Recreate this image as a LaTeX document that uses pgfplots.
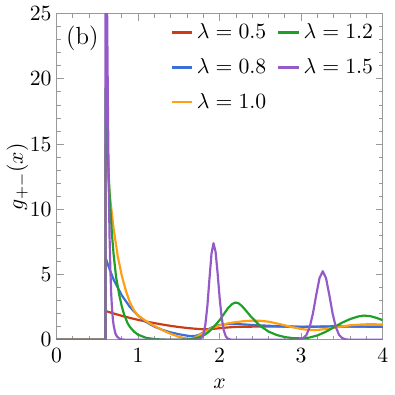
\documentclass[border=0pt]{standalone}
\usepackage{pgfplots}
\pgfplotsset{compat=1.18}
\definecolor{cRed}{RGB}{204,60,20}
\definecolor{cBlue}{RGB}{60,110,215}
\definecolor{cOrange}{RGB}{255,160,20}
\definecolor{cGreen}{RGB}{30,160,40}
\definecolor{cPurple}{RGB}{150,90,200}
\begin{document}
\begin{tikzpicture}
\begin{axis}[
  width=164.5pt, height=164.5pt, scale only axis,
  xmin=0, xmax=4, ymin=0, ymax=25,
  xtick={0,1,2,3,4}, ytick={0,5,10,15,20,25},
  minor x tick num=4, minor y tick num=4,
  tick align=inside,
  axis line style={gray!80},
  every tick/.style={gray!80, thin},
  major tick length=3.5pt, minor tick length=2pt,
  ticklabel style={font=\fontsize{10.8}{13}\selectfont},
  xticklabel style={yshift=-1pt},
  yticklabel style={xshift=1pt},
  xlabel={$x$}, ylabel={$g_{+-}(x)$},
  label style={font=\fontsize{11}{13}\selectfont},
  xlabel style={at={(axis description cs:0.5,-0.135)}, anchor=center},
  ylabel style={at={(axis description cs:-0.12,0.5)}, anchor=center},
  clip=true,
  legend style={at={(rel axis cs:0.33,0.995)}, anchor=north west, draw=none, fill=none,
    legend columns=2, row sep=4.5pt, font=\fontsize{10.5}{12}\selectfont,
    /tikz/every even column/.append style={column sep=3.5pt}},
  legend cell align=left,
  legend image code/.code={\draw[#1] (0cm,0cm) -- (0.36cm,0cm);},
  every axis plot/.append style={line width=1.1pt, line join=round},
]
\addplot[cRed, forget plot] coordinates {(0,0)(0.6,0)(0.6,2.2)(0.7,2.01)(0.8,1.83)(0.9,1.67)(1.0,1.52)(1.1,1.39)(1.2,1.27)(1.3,1.16)(1.4,1.06)(1.5,0.97)(1.6,0.9)(1.7,0.84)(1.8,0.8)(1.9,0.82)(2.0,0.88)(2.1,0.94)(2.2,0.98)(2.4,1.0)(2.6,1.01)(2.8,1.01)(3.0,1.0)(3.2,1.0)(3.4,1.0)(3.6,1.0)(3.8,1.0)(4.0,1.0)};
\addplot[cBlue, forget plot] coordinates {(0,0)(0.6,0)(0.6,6.3)(0.65,5.4)(0.7,4.6)(0.75,4.0)(0.8,3.4)(0.9,2.5)(1.0,1.85)(1.1,1.35)(1.2,1.0)(1.3,0.75)(1.4,0.56)(1.5,0.42)(1.6,0.31)(1.65,0.27)(1.7,0.29)(1.75,0.38)(1.8,0.55)(1.85,0.75)(1.9,0.93)(1.95,1.05)(2.0,1.13)(2.1,1.2)(2.2,1.2)(2.3,1.17)(2.4,1.13)(2.6,1.07)(2.8,1.01)(3.0,0.98)(3.2,1.0)(3.4,1.03)(3.6,1.02)(3.8,1.0)(4.0,0.99)};
\addplot[cOrange, forget plot] coordinates {(0,0)(0.6,0)(0.6,15.0)(0.62,13.3)(0.65,11.2)(0.7,8.5)(0.75,6.4)(0.8,4.9)(0.85,3.75)(0.9,2.85)(0.95,2.25)(1.0,1.85)(1.1,1.42)(1.2,1.05)(1.3,0.72)(1.4,0.45)(1.5,0.22)(1.6,0.08)(1.65,0.07)(1.7,0.17)(1.8,0.52)(1.9,0.88)(2.0,1.1)(2.1,1.25)(2.2,1.35)(2.3,1.42)(2.4,1.46)(2.5,1.45)(2.6,1.38)(2.7,1.25)(2.8,1.1)(2.9,0.95)(3.0,0.82)(3.1,0.75)(3.2,0.75)(3.3,0.82)(3.4,0.92)(3.5,1.02)(3.6,1.1)(3.7,1.15)(3.8,1.18)(3.9,1.18)(4.0,1.17)};
\addplot[cGreen, forget plot] coordinates {(0,0)(0.6,0)(0.6,19.3)(0.62,15.5)(0.64,12.5)(0.66,10.0)(0.68,8.0)(0.7,6.5)(0.73,4.8)(0.77,3.4)(0.8,2.55)(0.83,1.9)(0.87,1.28)(0.9,0.97)(0.95,0.62)(1.0,0.38)(1.1,0.14)(1.2,0.05)(1.3,0.01)(1.5,0.0)(1.6,0.02)(1.65,0.05)(1.7,0.1)(1.75,0.18)(1.8,0.32)(1.85,0.52)(1.9,0.8)(1.95,1.14)(2.0,1.5)(2.05,1.95)(2.1,2.4)(2.15,2.72)(2.19,2.85)(2.23,2.8)(2.27,2.6)(2.32,2.25)(2.38,1.8)(2.45,1.35)(2.5,1.05)(2.6,0.62)(2.7,0.36)(2.8,0.2)(2.9,0.12)(3.0,0.1)(3.1,0.16)(3.2,0.33)(3.3,0.6)(3.4,0.95)(3.5,1.3)(3.6,1.58)(3.7,1.78)(3.77,1.85)(3.85,1.8)(3.92,1.68)(4.0,1.5)};
\addplot[cPurple, forget plot] coordinates {(0,0)(0.6,0)(0.6,45)(0.61,35)(0.62,25)(0.63,17.5)(0.64,11.7)(0.65,7.8)(0.66,5.3)(0.67,3.5)(0.68,2.4)(0.69,1.6)(0.7,1.1)(0.72,0.5)(0.74,0.25)(0.77,0.08)(0.8,0.02)(0.85,0)(1.725,0)(1.75,0.03)(1.775,0.11)(1.8,0.41)(1.825,1.16)(1.85,2.61)(1.875,4.66)(1.9,6.59)(1.925,7.4)(1.95,6.74)(1.975,5.11)(2.0,3.21)(2.025,1.68)(2.05,0.73)(2.075,0.26)(2.1,0.08)(2.125,0.02)(2.15,0)(2.945,0)(2.985,0.03)(3.025,0.12)(3.065,0.37)(3.105,0.97)(3.145,2.03)(3.185,3.44)(3.225,4.72)(3.265,5.25)(3.305,4.72)(3.345,3.44)(3.385,2.03)(3.425,0.97)(3.465,0.37)(3.505,0.12)(3.545,0.03)(3.585,0)(4.0,0)};
\addlegendimage{cRed, line width=1.1pt}
\addlegendentry{$\lambda=0.5$}
\addlegendimage{cGreen, line width=1.1pt}
\addlegendentry{$\lambda=1.2$}
\addlegendimage{cBlue, line width=1.1pt}
\addlegendentry{$\lambda=0.8$}
\addlegendimage{cPurple, line width=1.1pt}
\addlegendentry{$\lambda=1.5$}
\addlegendimage{cOrange, line width=1.1pt}
\addlegendentry{$\lambda=1.0$}
\node[font=\fontsize{12.5}{14}\selectfont] at (rel axis cs:0.079,0.924) {(b)};
\end{axis}
\end{tikzpicture}
\end{document}
